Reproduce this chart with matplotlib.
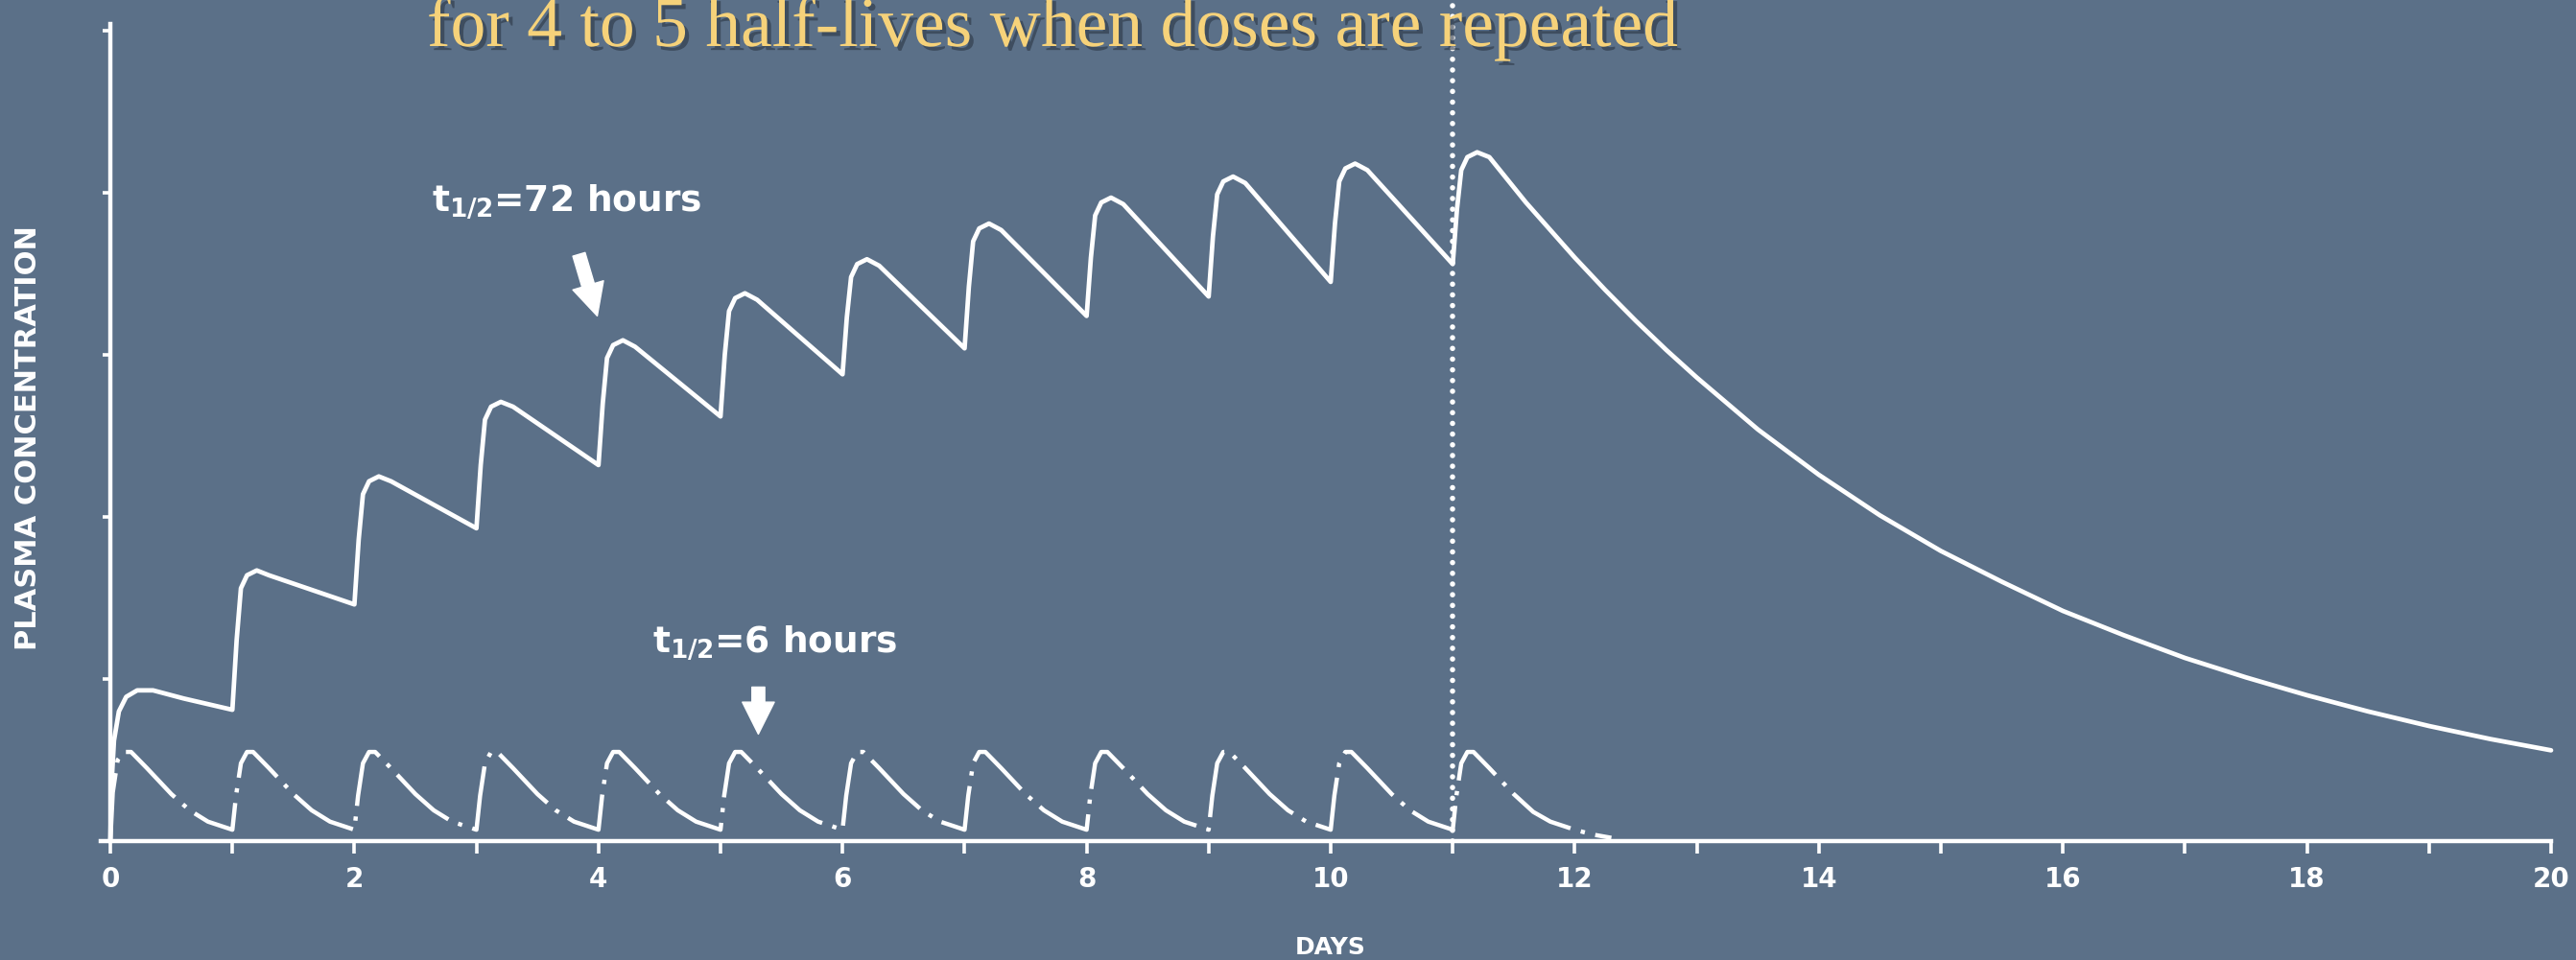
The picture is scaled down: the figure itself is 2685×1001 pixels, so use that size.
import matplotlib.pyplot as plt
import matplotlib.patheffects as pe

# drug with 72 h half-life, one dose a day (days 0..11), then stopped
days_72 = [0.0, 0.01, 0.03, 0.07, 0.13, 0.22, 0.35, 0.6, 1.0,
           1.035, 1.07, 1.12, 1.2, 1.3, 2.0,
           2.035, 2.07, 2.12, 2.2, 2.3, 3.0,
           3.035, 3.07, 3.12, 3.2, 3.3, 4.0,
           4.035, 4.07, 4.12, 4.2, 4.3, 5.0,
           5.035, 5.07, 5.12, 5.2, 5.3, 6.0,
           6.035, 6.07, 6.12, 6.2, 6.3, 7.0,
           7.035, 7.07, 7.12, 7.2, 7.3, 8.0,
           8.035, 8.07, 8.12, 8.2, 8.3, 9.0,
           9.035, 9.07, 9.12, 9.2, 9.3, 10.0,
           10.035, 10.07, 10.12, 10.2, 10.3, 11.0,
           11.035, 11.07, 11.12, 11.2, 11.3, 11.6, 12.0, 12.25, 12.5, 12.75,
           13.0, 13.5, 14.0, 14.5, 15.0, 15.5, 16.0, 16.5, 17.0, 17.5,
           18.0, 18.5, 19.0, 19.5, 20.0]
conc_72 = [0.0, 0.35, 0.62, 0.8, 0.89, 0.93, 0.93, 0.88, 0.81,
           1.24, 1.56, 1.64, 1.67, 1.64, 1.46,
           1.86, 2.14, 2.22, 2.25, 2.22, 1.93,
           2.32, 2.60, 2.68, 2.71, 2.68, 2.32,
           2.70, 2.98, 3.06, 3.09, 3.05, 2.62,
           3.00, 3.27, 3.35, 3.38, 3.34, 2.88,
           3.23, 3.48, 3.56, 3.59, 3.55, 3.04,
           3.42, 3.70, 3.78, 3.81, 3.77, 3.24,
           3.60, 3.86, 3.94, 3.97, 3.93, 3.36,
           3.73, 3.99, 4.07, 4.10, 4.06, 3.45,
           3.81, 4.07, 4.15, 4.18, 4.14, 3.56,
           3.90, 4.14, 4.22, 4.25, 4.22, 3.94, 3.60, 3.40, 3.21, 3.03,
           2.86, 2.54, 2.26, 2.01, 1.79, 1.60, 1.42, 1.27, 1.13, 1.01,
           0.90, 0.80, 0.71, 0.63, 0.56]

# drug with 6 h half-life, same dosing
days_6 = [0.0, 0.02, 0.06, 0.11, 0.17, 0.3, 0.5, 0.65, 0.8, 1.0,
          1.03, 1.07, 1.12, 1.17, 1.3, 1.5, 1.65, 1.8, 2.0,
          2.03, 2.07, 2.12, 2.17, 2.3, 2.5, 2.65, 2.8, 3.0,
          3.03, 3.07, 3.12, 3.17, 3.3, 3.5, 3.65, 3.8, 4.0,
          4.03, 4.07, 4.12, 4.17, 4.3, 4.5, 4.65, 4.8, 5.0,
          5.03, 5.07, 5.12, 5.17, 5.3, 5.5, 5.65, 5.8, 6.0,
          6.03, 6.07, 6.12, 6.17, 6.3, 6.5, 6.65, 6.8, 7.0,
          7.03, 7.07, 7.12, 7.17, 7.3, 7.5, 7.65, 7.8, 8.0,
          8.03, 8.07, 8.12, 8.17, 8.3, 8.5, 8.65, 8.8, 9.0,
          9.03, 9.07, 9.12, 9.17, 9.3, 9.5, 9.65, 9.8, 10.0,
          10.03, 10.07, 10.12, 10.17, 10.3, 10.5, 10.65, 10.8, 11.0,
          11.03, 11.07, 11.12, 11.17, 11.3, 11.5, 11.66, 11.8, 12.0, 12.15, 12.3]
conc_6 = [0.0, 0.3, 0.5, 0.55, 0.55, 0.45, 0.29, 0.19, 0.12, 0.07,
          0.28, 0.48, 0.55, 0.55, 0.45, 0.29, 0.19, 0.12, 0.07,
          0.28, 0.48, 0.55, 0.55, 0.45, 0.29, 0.19, 0.12, 0.07,
          0.28, 0.48, 0.55, 0.55, 0.45, 0.29, 0.19, 0.12, 0.07,
          0.28, 0.48, 0.55, 0.55, 0.45, 0.29, 0.19, 0.12, 0.07,
          0.28, 0.48, 0.55, 0.55, 0.45, 0.29, 0.19, 0.12, 0.07,
          0.28, 0.48, 0.55, 0.55, 0.45, 0.29, 0.19, 0.12, 0.07,
          0.28, 0.48, 0.55, 0.55, 0.45, 0.29, 0.19, 0.12, 0.07,
          0.28, 0.48, 0.55, 0.55, 0.45, 0.29, 0.19, 0.12, 0.07,
          0.28, 0.48, 0.55, 0.55, 0.45, 0.29, 0.19, 0.12, 0.07,
          0.28, 0.48, 0.55, 0.55, 0.45, 0.29, 0.19, 0.12, 0.07,
          0.28, 0.48, 0.55, 0.55, 0.45, 0.29, 0.18, 0.12, 0.07, 0.04, 0.02]

last_dose_day = 11
x_ticks = list(range(0, 21))
x_labels = [str(d) if d % 2 == 0 else '' for d in x_ticks]
y_ticks = [1, 2, 3, 4, 5]

title = 'for 4 to 5 half-lives when doses are repeated'
bg = '#5b7088'
ink = 'white'

fig = plt.figure(figsize=(26.85, 10.01), dpi=100, facecolor=bg)
ax = fig.add_axes([115 / 2685, 124 / 1001, 2544 / 2685, 5.2 * 169 / 1001])
ax.set_facecolor(bg)

ax.plot(days_72, conc_72, color=ink, lw=3.4, solid_joinstyle='round',
        solid_capstyle='round', clip_on=False)
ax.plot(days_6, conc_6, color=ink, lw=3.2, dashes=(16, 2.5, 1, 2.5),
        dash_joinstyle='round', clip_on=False)
ax.plot([last_dose_day, last_dose_day], [0, 5.17], color=ink, lw=4,
        dashes=(0.01, 2.0), dash_capstyle='round', clip_on=False)

ax.set_xlim(0, 20)
ax.set_ylim(0, 5.2)
for s in ['top', 'right']:
    ax.spines[s].set_visible(False)
for s in ['left', 'bottom']:
    ax.spines[s].set_color(ink)
    ax.spines[s].set_linewidth(3.2)
ax.spines['left'].set_bounds(0, 5.04)
ax.spines['bottom'].set_bounds(-0.08, 20)

ax.set_xticks(x_ticks)
ax.set_xticklabels(x_labels)
ax.set_yticks(y_ticks)
ax.set_yticklabels([])
ax.tick_params(axis='x', colors=ink, length=9, width=2.6, pad=10,
               labelsize=20)
ax.tick_params(axis='y', colors=ink, length=6, width=2.6)
for lbl in ax.get_xticklabels():
    lbl.set_fontweight('bold')

ax.set_xlabel('DAYS', color=ink, fontsize=18, fontweight='bold', labelpad=32)
ax.set_ylabel('PLASMA CONCENTRATION', color=ink, fontsize=22,
              fontweight='bold')
ax.yaxis.set_label_coords(-0.028, 0.478)

# half-life labels with arrows
ax.text(2.63, 3.89, r'$\mathbf{t_{1/2}}$=72 hours', color=ink, fontsize=27,
        fontweight='bold', va='baseline', ha='left')
ax.annotate('', xy=(3.99, 3.24), xytext=(3.84, 3.62),
            arrowprops=dict(arrowstyle='simple,head_length=1.0,head_width=1.0,tail_width=0.4',
                            color=ink, mutation_scale=24, shrinkA=0, shrinkB=0))
ax.text(4.44, 1.17, r'$\mathbf{t_{1/2}}$=6 hours', color=ink, fontsize=27,
        fontweight='bold', va='baseline', ha='left')
ax.annotate('', xy=(5.31, 0.66), xytext=(5.31, 0.95),
            arrowprops=dict(arrowstyle='simple,head_length=1.0,head_width=1.0,tail_width=0.4',
                            color=ink, mutation_scale=24, shrinkA=0, shrinkB=0))

fig.text(445 / 2685, 1 - 48 / 1001, title, color='#f6d27a', fontsize=53,
         family='Liberation Serif', ha='left', va='baseline',
         path_effects=[pe.SimplePatchShadow(offset=(3, -3), shadow_rgbFace='#2b3644',
                                            alpha=0.6), pe.Normal()])

fig.savefig('out.png', dpi=100, facecolor=bg)
